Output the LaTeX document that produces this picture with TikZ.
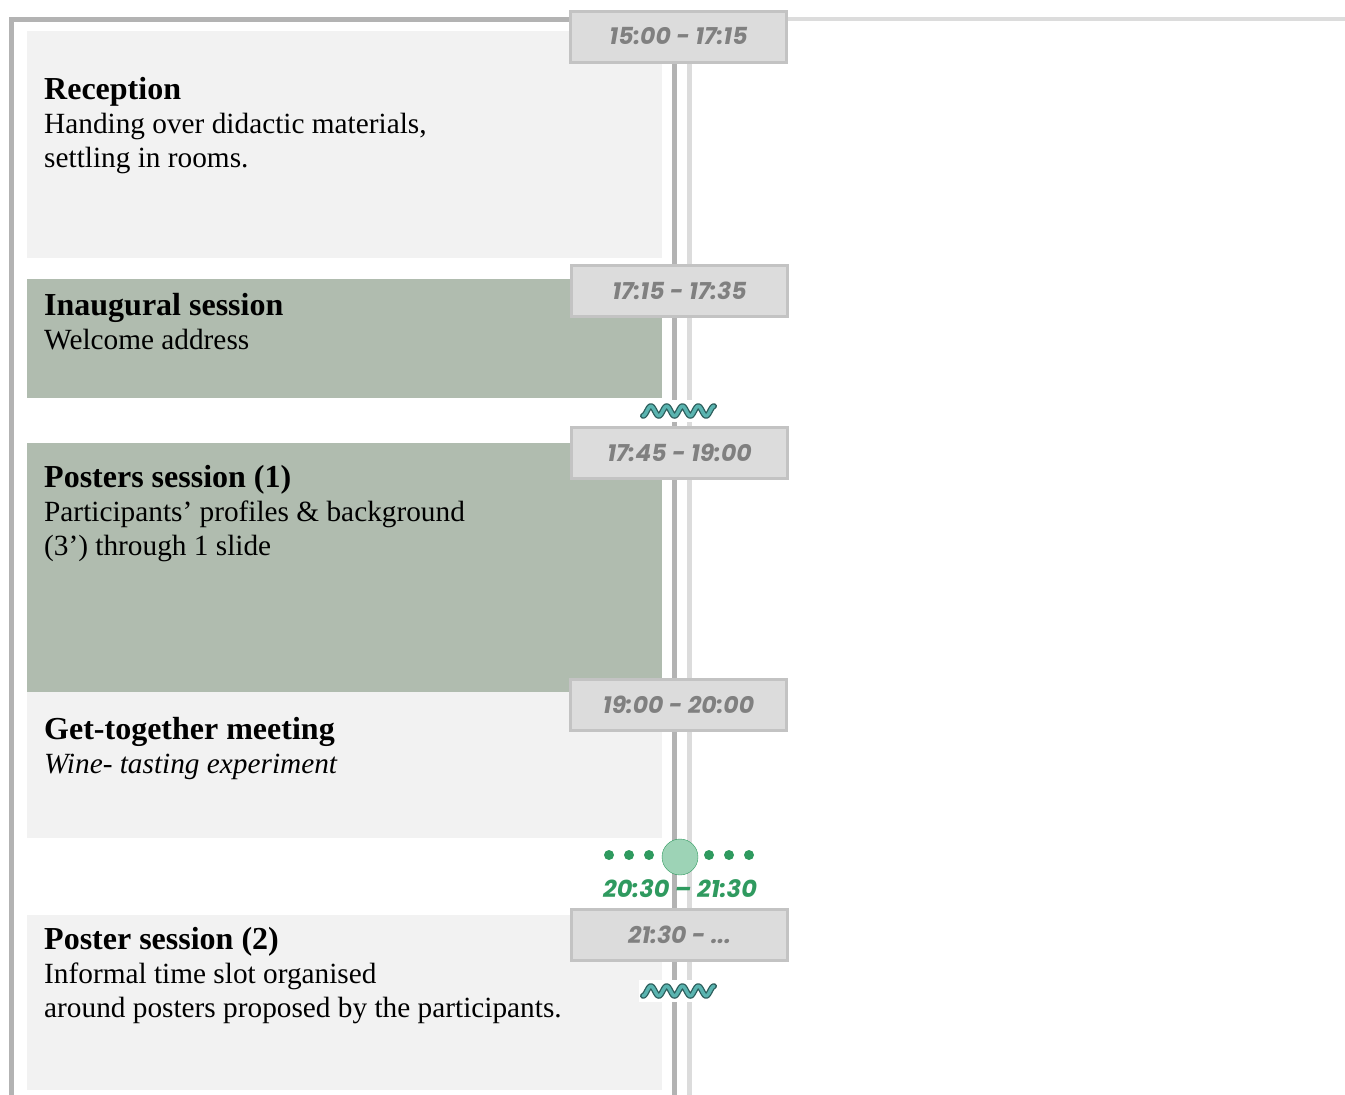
\documentclass[tikz,border=0pt]{standalone}
\usepackage{fontspec}
\setmainfont{Liberation Serif}
\newfontfamily\clockfont{Poppins}
\usepackage{tikz}
\usetikzlibrary{positioning}

\definecolor{paleGray}{HTML}{F2F2F2}
\definecolor{sage}{HTML}{B0BCAF}
\definecolor{railDark}{HTML}{B3B3B3}
\definecolor{railLight}{HTML}{DCDCDC}
\definecolor{tagFill}{HTML}{DCDCDC}
\definecolor{tagEdge}{HTML}{C3C3C3}
\definecolor{tagText}{HTML}{808080}
\definecolor{breakGreen}{HTML}{2F9A5F}
\definecolor{breakFill}{HTML}{9DD3B6}
\definecolor{wavyTeal}{HTML}{5AB4B0}
\definecolor{wavyEdge}{HTML}{2C5E5C}

\newcommand{\ttl}[1]{{\fontsize{32}{34}\selectfont\bfseries #1}}

\begin{document}
\begin{tikzpicture}[
    x=1pt, y=-1pt,
    slot/.style={anchor=north west, minimum width=635, inner sep=0, draw=none},
    txt/.style={anchor=base west, align=left, inner sep=0, font=\fontsize{29.3}{34}\selectfont},
    tag/.style={draw=tagEdge, line width=3, fill=tagFill, minimum width=216, minimum height=51,
                inner sep=0, text=tagText, font=\clockfont\fontsize{23.5}{24}\selectfont\bfseries\itshape},
    rail/.style={line width=5},
    dot/.style={circle, fill=breakGreen, inner sep=0, minimum size=10}
]
    \useasboundingbox (0,0) rectangle (1345,1095);

    % frame and timeline rails
    \draw[rail, railDark] (11,1095) -- (11,19.5) -- (570,19.5);
    \draw[line width=4, railLight] (788,19) -- (1345,19);
    \draw[rail, railDark] (674.5,10) -- (674.5,1095);
    \draw[rail, railLight] (689.5,10) -- (689.5,1095);

    % sessions
    \node[slot, fill=paleGray, minimum height=227] (recep) at (27,31) {};
    \node[slot, fill=sage, minimum height=119] (inaug) at (27,279) {};
    \node[slot, fill=sage, minimum height=249] (post1) at (27,443) {};
    \node[slot, fill=paleGray, minimum height=146] (gettog) at (27,692) {};
    \node[slot, fill=paleGray, minimum height=175] (post2) at (27,915) {};

    % (base = last line)
    \node[txt] (recepTxt) at (44,167) {\ttl{Reception}\\Handing over didactic materials,\\settling in rooms.};
    \node[txt] (inaugTxt) at (44,349) {\ttl{Inaugural session}\\Welcome address};
    \node[txt] (post1Txt) at (44,555) {\ttl{Posters session (1)}\\Participants’ profiles \& background\\(3’) through 1 slide};
    \node[txt] (gettogTxt) at (44,773) {\ttl{Get-together meeting}\\\textit{Wine- tasting experiment}};
    \node[txt] (post2Txt) at (44,1017) {\ttl{Poster session (2)}\\Informal time slot organised\\around posters proposed by the participants.};

    % time tags
    \node[tag] (t1) at (678.5,36.5) {15:00 - 17:15};
    \node[tag] (t2) at (679.5,290.5) {17:15 - 17:35};
    \node[tag] (t3) at (679.5,453) {17:45 - 19:00};
    \node[tag] (t4) at (678.5,704.5) {19:00 - 20:00};
    \node[tag] (t5) at (679.5,935) {21:30 - ...};

    % breaks
    \foreach \yy in {411,991} {
        \fill[white] (639,\yy-11) rectangle (717,\yy+11);
        \draw[wavyEdge, line width=6, line cap=round, line join=round]
            plot[domain=0:71, samples=90, smooth] ({643+\x}, {\yy+4.8*cos(\x/71*4.5*360)});
        \draw[wavyTeal, line width=3.4, line cap=round, line join=round]
            plot[domain=0:71, samples=90, smooth] ({643+\x}, {\yy+4.8*cos(\x/71*4.5*360)});
    }

    \node[circle, draw=breakGreen, fill=breakFill, minimum size=36, inner sep=0] (dinner) at (680,857) {};
    \foreach \xx [count=\i] in {609,629,649} {
        \node[dot] (dl\i) at (\xx,855) {};
    }
    \foreach \xx [count=\i] in {709,729,749} {
        \node[dot] (dr\i) at (\xx,855) {};
    }
    \node[text=breakGreen, font=\clockfont\fontsize{24}{24}\selectfont\bfseries\itshape] (dinnerTime) at (680,889) {20:30 – 21:30};
\end{tikzpicture}
\end{document}
